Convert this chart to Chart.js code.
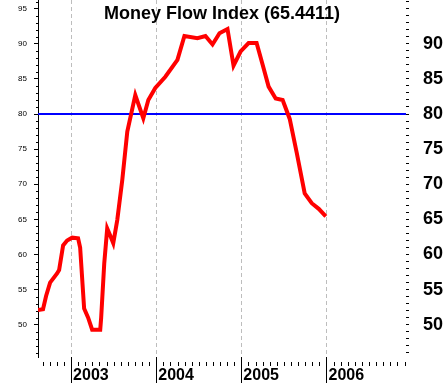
<!DOCTYPE html>
<html>
<head>
<meta charset="utf-8">
<script src="https://cdn.jsdelivr.net/npm/chart.js@4/dist/chart.umd.min.js"></script>
<style>
  body { margin: 0; background: #fff; }
  canvas { display: block; }
</style>
</head>
<body>
<canvas id="mfiChart" width="445" height="385"></canvas>
<script>
// Money Flow Index values (date as decimal year)
const dates = [
  2002.611, 2002.670, 2002.706, 2002.753, 2002.835, 2002.859, 2002.906, 2002.953,
  2003.012, 2003.082, 2003.106, 2003.153, 2003.200, 2003.247, 2003.342, 2003.353,
  2003.389, 2003.424, 2003.459, 2003.495, 2003.542, 2003.601, 2003.660, 2003.754,
  2003.848, 2003.907, 2003.989, 2004.107, 2004.249, 2004.331, 2004.484, 2004.578,
  2004.661, 2004.743, 2004.837, 2004.908, 2004.991, 2005.085, 2005.179, 2005.250,
  2005.320, 2005.403, 2005.485, 2005.568, 2005.650, 2005.744, 2005.827, 2005.909,
  2005.992
];
const mfi = [
  52.1, 52.2, 54.1, 56.0, 57.3, 57.8, 61.3, 62.0,
  62.4, 62.3, 61.0, 52.3, 51.0, 49.3, 49.3, 51.0,
  58.7, 63.7, 62.7, 61.6, 64.9, 70.6, 77.5, 82.7,
  79.4, 82.0, 83.7, 85.3, 87.7, 91.1, 90.8, 91.1,
  89.9, 91.5, 92.1, 86.9, 88.9, 90.1, 90.1, 87.0,
  83.9, 82.2, 82.0, 79.3, 74.5, 68.7, 67.3, 66.5,
  65.4411
];
const years = [2003, 2004, 2005, 2006];
const leftTicks = [50, 55, 60, 65, 70, 75, 80, 85, 90, 95];
const rightLabels = [50, 55, 60, 65, 70, 75, 80, 85, 90];
const overbought = 80;
const xMin = 2002.611, xMax = 2006.934;
const yMin = 45.41, yMax = 96.23;
const lastValue = '65.4411';

// small ticks: every unit on the left, every month at the bottom
const minorTicks = {
  id: 'minorTicks',
  afterDraw(chart) {
    const { ctx, chartArea, scales } = chart;
    ctx.save();
    ctx.strokeStyle = '#000';
    ctx.lineWidth = 1;
    ctx.beginPath();
    for (let v = Math.ceil(yMin); v <= Math.floor(yMax); v++) {
      if (v % 5 === 0) continue;
      const y = Math.round(scales.y.getPixelForValue(v)) + 0.5;
      ctx.moveTo(chartArea.left - 2, y);
      ctx.lineTo(chartArea.left, y);
    }
    for (let m = 8; m < 60; m++) {
      const v = 2002 + m / 12;
      if (v > xMax) break;
      if (m % 12 === 0) continue;
      const x = Math.round(scales.x.getPixelForValue(v)) + 0.5;
      ctx.moveTo(x, chartArea.bottom + 5);
      ctx.lineTo(x, chartArea.bottom + 9);
    }
    ctx.stroke();
    ctx.restore();
  }
};

// title sits inside the plot area
const innerTitle = {
  id: 'innerTitle',
  afterDraw(chart) {
    const { ctx, chartArea } = chart;
    ctx.save();
    ctx.font = 'bold 18px "Liberation Sans", Arial, sans-serif';
    ctx.fillStyle = '#000';
    ctx.textAlign = 'center';
    ctx.textBaseline = 'alphabetic';
    ctx.fillText('Money Flow Index (' + lastValue + ')', (chartArea.left + chartArea.right) / 2, 19);
    ctx.restore();
  }
};

const noPad = (s) => { s.paddingTop = 0; s.paddingBottom = 0; s.paddingLeft = 0; s.paddingRight = 0; };

const ctx = document.getElementById('mfiChart').getContext('2d');
const chart = new Chart(ctx, {
  type: 'line',
  data: {
    datasets: [{
      label: 'MFI',
      data: dates.map((d, i) => ({ x: d, y: mfi[i] })),
      borderColor: '#ff0000',
      borderWidth: 4,
      pointRadius: 0,
      tension: 0,
      yAxisID: 'y'
    }, {
      label: 'level',
      data: [{ x: xMin, y: overbought }, { x: xMax, y: overbought }],
      borderColor: '#0000ff',
      borderWidth: 2,
      pointRadius: 0,
      yAxisID: 'y'
    }]
  },
  options: {
    responsive: false,
    animation: false,
    layout: { padding: 0 },
    plugins: {
      legend: { display: false },
      tooltip: { enabled: false },
      title: { display: false }
    },
    scales: {
      x: {
        type: 'linear',
        position: 'bottom',
        min: xMin,
        max: xMax,
        afterBuildTicks: (s) => { s.ticks = years.map(v => ({ value: v })); },
        afterFit: (s) => { s.height = 28; noPad(s); },
        border: { display: false, dash: [4, 3] },
        grid: {
          drawOnChartArea: true,
          color: '#bdbdbd',
          lineWidth: 1,
          drawTicks: true,
          tickLength: 26,
          tickColor: '#000',
          tickBorderDash: []
        },
        ticks: {
          autoSkip: false,
          maxRotation: 0,
          align: 'start',
          labelOffset: 2,
          padding: -17,
          color: '#000',
          font: { family: '"Liberation Sans", Arial, sans-serif', size: 16, weight: 'bold' },
          callback: (v) => String(v)
        }
      },
      y: {
        type: 'linear',
        position: 'left',
        min: yMin,
        max: yMax,
        afterBuildTicks: (s) => { s.ticks = leftTicks.map(v => ({ value: v })); },
        afterFit: (s) => { s.width = 38; noPad(s); },
        border: { display: true, color: '#000', width: 1 },
        grid: { drawOnChartArea: false, tickLength: 4, tickColor: '#000' },
        ticks: {
          padding: 7,
          color: '#000',
          font: { family: '"Liberation Sans", Arial, sans-serif', size: 8 },
          callback: (v) => String(v)
        }
      },
      y2: {
        type: 'linear',
        position: 'right',
        min: yMin,
        max: yMax,
        afterBuildTicks: (s) => {
          const t = [];
          for (let v = Math.ceil(yMin); v <= Math.floor(yMax); v++) t.push({ value: v });
          s.ticks = t;
        },
        afterFit: (s) => { s.width = 39; noPad(s); },
        border: { display: false },
        grid: { drawOnChartArea: false, tickLength: 3, tickColor: '#000' },
        ticks: {
          autoSkip: false,
          padding: 14,
          color: '#000',
          font: { family: '"Liberation Sans", Arial, sans-serif', size: 18, weight: 'bold' },
          callback: (v) => rightLabels.includes(v) ? String(v) : ''
        }
      }
    }
  },
  plugins: [minorTicks, innerTitle]
});
</script>
</body>
</html>
